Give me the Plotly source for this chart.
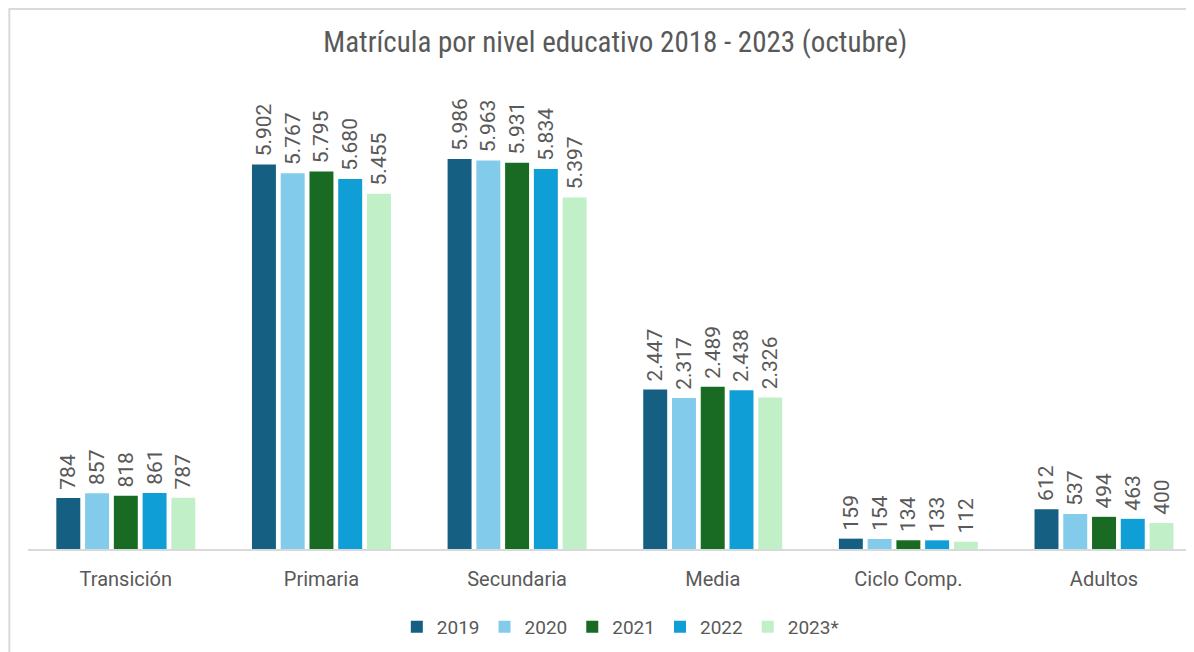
import plotly.graph_objects as go

categories = ["Transición", "Primaria", "Secundaria", "Media", "Ciclo Comp.", "Adultos"]
years = ["2019", "2020", "2021", "2022", "2023*"]
values = {
    "2019": [784, 5902, 5986, 2447, 159, 612],
    "2020": [857, 5767, 5963, 2317, 154, 537],
    "2021": [818, 5795, 5931, 2489, 134, 494],
    "2022": [861, 5680, 5834, 2438, 133, 463],
    "2023*": [787, 5455, 5397, 2326, 112, 400],
}
colors = ["#155F82", "#83CBEB", "#196B24", "#0F9ED5", "#C1F0C8"]

text_color = "#595959"
base_font = "Roboto, Arial, sans-serif"

fig = go.Figure()
for year, color in zip(years, colors):
    fig.add_trace(
        go.Bar(
            x=categories,
            y=values[year],
            name=year,
            marker={"color": color, "line": {"width": 0}},
            # leading nbsp gives the gap between bar and label seen in the original
            texttemplate="\u00a0%{y:,}",
            textposition="outside",
            textangle=-90,
            constraintext="none",
            cliponaxis=False,
            textfont={"size": 21, "color": text_color, "family": base_font},
        )
    )

# the page body has an 8px margin, so the figure is a bit smaller than the window
fig.update_layout(
    width=1186,
    height=644,
    margin={"l": 20, "r": 0, "t": 85, "b": 103},
    paper_bgcolor="white",
    plot_bgcolor="white",
    separators=",.",
    barmode="group",
    bargap=0.265,
    bargroupgap=0.167,
    font={"family": base_font, "color": text_color},
    title={
        "text": "Matrícula por nivel educativo 2018 - 2023 (octubre)",
        "x": 0.512,
        "xanchor": "center",
        "y": 0.947,
        "yanchor": "middle",
        "font": {
            "family": "Liberation Sans Narrow, Roboto Condensed, Arial Narrow, sans-serif",
            "size": 29,
            "color": text_color,
        },
    },
    legend={
        "orientation": "h",
        "x": 0.508,
        "xanchor": "center",
        "y": -0.171,
        "yanchor": "middle",
        "font": {"size": 19, "color": text_color},
        "itemwidth": 30,
    },
    shapes=[
        {
            "type": "rect",
            "xref": "paper",
            "yref": "paper",
            "x0": -0.016,
            "x1": 1.05,
            "y0": -0.4,
            "y1": 1.184,
            "line": {"color": "#D9D9D9", "width": 2},
        }
    ],
)

# the last category is cut by the right edge in the original
fig.update_xaxes(
    range=[-0.5, 5.46],
    showline=True,
    linecolor="#D9D9D9",
    linewidth=1.5,
    showgrid=False,
    ticks="",
    ticklabelstandoff=11,
    tickfont={"size": 20, "color": text_color},
)
fig.update_yaxes(
    range=[0, 7000],
    visible=False,
    showgrid=False,
)

fig.write_html("out.html")
